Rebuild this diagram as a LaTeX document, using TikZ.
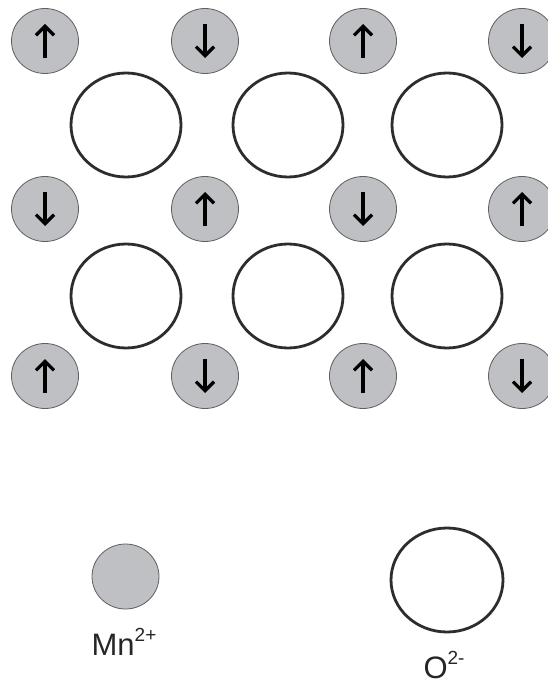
\documentclass[tikz,border=0pt]{standalone}
\usepackage{fontspec}
\setmainfont{Liberation Sans}
\usepackage{xcolor}
\definecolor{mnGray}{RGB}{190,192,195}
\definecolor{mnEdge}{RGB}{95,95,95}
\definecolor{oxEdge}{RGB}{45,45,45}
\usetikzlibrary{positioning,arrows.meta,shapes.geometric}
\newcommand{\ionchg}[1]{\raisebox{0.42em}{\fontsize{19}{21}\selectfont #1}}

\begin{document}
\begin{tikzpicture}[x=1pt,y=-1pt,
  mn/.style={ellipse,draw=mnEdge,line width=0.8pt,fill=mnGray,minimum width=67pt,minimum height=65pt,inner sep=0pt},
  ox/.style={ellipse,draw=oxEdge,line width=2.8pt,fill=white,minimum width=110pt,minimum height=104pt,inner sep=0pt},
  spin/.style={-{Straight Barb[length=9pt,width=18pt]},line width=3.2pt,black},
  lbl/.style={font=\fontsize{31}{36}\selectfont,text=black!85,inner sep=0pt,anchor=base}]
  \useasboundingbox (0,0) rectangle (547,684);
  % Mn2+ lattice with spins
  \foreach \y [count=\r] in {41,209,376} {
    \foreach \x [count=\c] in {45,205,363,522} {
      \node[mn] (mn\r\c) at (\x,\y) {};
      \pgfmathsetmacro\tipa{mod(\r+\c,2)==0 ? 17 : -17}
      \pgfmathsetmacro\tipb{-\tipa}
      \draw[spin] ([yshift=\tipb pt]mn\r\c.center) -- ([yshift=\tipa pt]mn\r\c.center);
    }
  }
  % O2- sites
  \foreach \y [count=\r] in {125,296} {
    \foreach \x [count=\c] in {126,288,447} {
      \node[ox] (ox\r\c) at (\x,\y) {};
    }
  }
  % legend
  \node[mn] (mnkey) at (125.5,576.5) {};
  \node[ox,minimum width=112pt] (oxkey) at (447,580) {};
  \node[lbl] (mnlbl) at (124,655) {Mn\ionchg{2+}};
  \node[lbl] (oxlbl) at (444,678) {O\ionchg{2-}};
\end{tikzpicture}
\end{document}
